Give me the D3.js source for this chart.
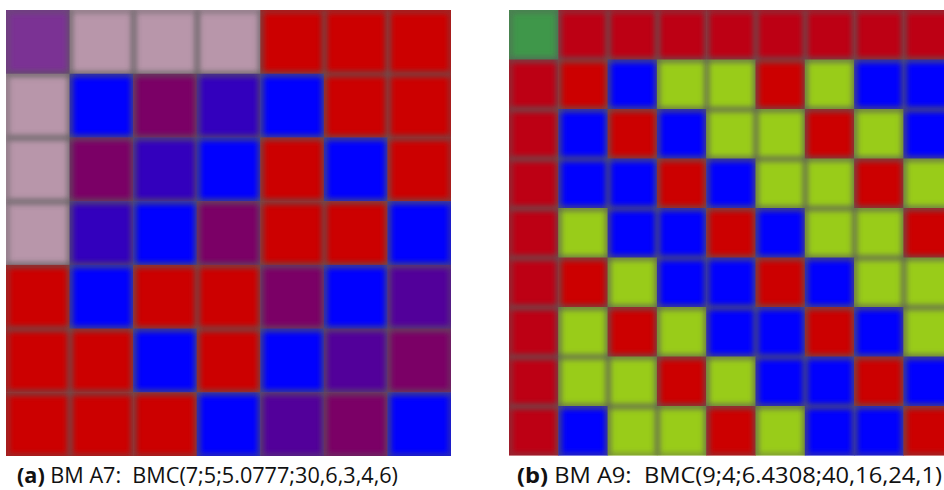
<!DOCTYPE html>
<html>
<head>
<meta charset="utf-8">
<script src="https://cdn.jsdelivr.net/npm/d3@7/dist/d3.min.js"></script>
<style>
  html, body { margin: 0; padding: 0; background: #fff; }
  svg { display: block; }
</style>
</head>
<body>
<svg id="chart" width="944" height="490"></svg>
<script>
// ---- data ----
const rowsA = [0, 1, 2, 3, 4, 5, 6];
const colsA = [0, 1, 2, 3, 4, 5, 6];
const gridA = [
  "PMMMRRR",
  "MBGIBRR",
  "MGIBRBR",
  "MIBGRRB",
  "RBRRGBV",
  "RRBRBVG",
  "RRRBVGB"
];
const keysA = ["P", "M", "R", "B", "G", "I", "V"];
const coloursA = ["#7b3294", "#b896aa", "#cc0000", "#0000ff", "#7b0066", "#3300bd", "#52009a"];

const rowsB = [0, 1, 2, 3, 4, 5, 6, 7, 8];
const colsB = [0, 1, 2, 3, 4, 5, 6, 7, 8];
const gridB = [
  "gDDDDDDDD",
  "DRBYYRYBB",
  "DBRBYYRYB",
  "DBBRBYYRY",
  "DYBBRBYYR",
  "DRYBBRBYY",
  "DYRYBBRBY",
  "DYYRYBBRB",
  "DBYYRYBBR"
];
const keysB = ["g", "D", "R", "B", "Y"];
const coloursB = ["#3f974a", "#bd0014", "#cc0000", "#0000ff", "#99cc19"];

const captionLabels = ["(a)", "(b)"];
const captionTexts = ["BM A7:  BMC(7;5;5.0777;30,6,3,4,6)", "BM A9:  BMC(9;4;6.4308;40,16,24,1)"];

// ---- drawing ----
const svg = d3.select("#chart");
const defs = svg.append("defs");
defs.append("filter").attr("id", "blur")
  .attr("x", "-20%").attr("y", "-20%").attr("width", "140%").attr("height", "140%")
  .append("feGaussianBlur").attr("stdDeviation", 2.4);

function drawGrid(id, rows, cols, grid, keys, colours, x0, y0, w, h) {
  const x = d3.scaleBand().domain(cols).range([x0, x0 + w]);
  const y = d3.scaleBand().domain(rows).range([y0, y0 + h]);
  const colour = d3.scaleOrdinal().domain(keys).range(colours);
  const cells = [];
  rows.forEach(r => cols.forEach(c => cells.push({ r, c, k: grid[r][c] })));

  defs.append("clipPath").attr("id", "clip" + id)
    .append("rect").attr("x", x0).attr("y", y0).attr("width", w).attr("height", h);

  const g = svg.append("g").attr("clip-path", `url(#clip${id})`);
  g.selectAll("rect.cell").data(cells).join("rect")
    .attr("class", "cell")
    .attr("x", d => x(d.c)).attr("y", d => y(d.r))
    .attr("width", x.bandwidth() + 0.5).attr("height", y.bandwidth() + 0.5)
    .attr("fill", d => colour(d.k));
  g.append("g").attr("filter", "url(#blur)")
    .selectAll("rect.edge").data(cells).join("rect")
    .attr("class", "edge")
    .attr("x", d => x(d.c) + 1).attr("y", d => y(d.r) + 1)
    .attr("width", x.bandwidth() - 1).attr("height", y.bandwidth() - 1)
    .attr("fill", "none")
    .attr("stroke", "#5a5a5a")
    .attr("stroke-opacity", 0.42)
    .attr("stroke-width", 6);
}

drawGrid("A", rowsA, colsA, gridA, keysA, coloursA, 6, 10, 445, 446);
drawGrid("B", rowsB, colsB, gridB, keysB, coloursB, 509, 10, 9 * 49.3, 9 * 49.5);

const capX = [17, 517];
const capW = [381, 425];
captionLabels.forEach((lab, i) => {
  const t = svg.append("text")
    .attr("x", capX[i]).attr("y", 483)
    .attr("font-family", "'Open Sans', 'DejaVu Sans', sans-serif")
    .attr("font-size", 21)
    .attr("fill", "#111")
    .attr("textLength", capW[i])
    .attr("lengthAdjust", "spacingAndGlyphs");
  t.append("tspan").attr("font-weight", "bold").text(lab);
  t.append("tspan").attr("xml:space", "preserve").text(" " + captionTexts[i]);
});
</script>
</body>
</html>
